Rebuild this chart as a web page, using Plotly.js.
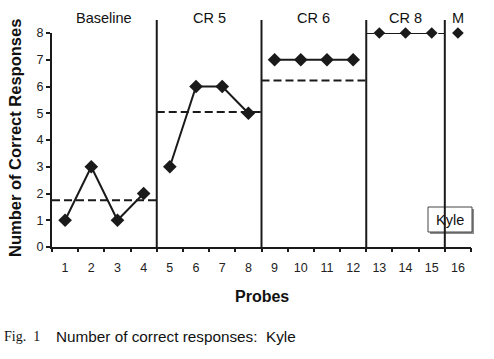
<!DOCTYPE html>
<html>
<head>
<meta charset="utf-8">
<script src="https://cdn.plot.ly/plotly-3.0.1.min.js"></script>
<style>html,body{margin:0;padding:0;background:#fff;}#chart{width:494px;height:359px;}</style>
</head>
<body>
<div id="chart"></div>
<script>
// ---- data ----
var probes = [1,2,3,4,5,6,7,8,9,10,11,12,13,14,15,16];
var responses = [1,3,1,2, 3,6,6,5, 7,7,7,7, 8,8,8, 8];
var phaseOfProbe = [0,0,0,0, 1,1,1,1, 2,2,2,2, 3,3,3, 4];
var phaseNames = ["Baseline", "CR 5", "CR 6", "CR 8", "M"];
var phaseLevels = [1.75, 5.05, 6.22, 8, null];   // dashed reference levels per phase
var yTicks = [0,1,2,3,4,5,6,7,8];
var subjectLabel = "Kyle";

var FONT = "Arial, 'Liberation Sans', sans-serif";
var INK = "#1a1a1a";

// plot area geometry (pixels)
var W = 494, H = 359, L = 52, R = 23, T = 33, B = 112;
var pw = W - L - R, ph = H - T - B;
function px(x){ return (x - L) / pw; }
function py(y){ return (H - B - y) / ph; }

// group probes into phases
var phases = phaseNames.map(function(){ return {x: [], y: []}; });
probes.forEach(function(p, i){
  phases[phaseOfProbe[i]].x.push(p);
  phases[phaseOfProbe[i]].y.push(responses[i]);
});

var traces = phases.map(function(ph_, k){
  return {
    type: "scatter", mode: "lines+markers",
    x: ph_.x, y: ph_.y,
    line: {color: INK, width: 2},
    marker: {symbol: "diamond", color: INK, size: (k >= 3 ? 9 : 10.5), line: {width: 0}},
    cliponaxis: false, showlegend: false, hoverinfo: "skip"
  };
});

// phase boundaries and tick boundaries
var xmin = probes[0] - 0.5, xmax = probes[probes.length - 1] + 0.5;
var starts = [], ends = [];
phases.forEach(function(p){ starts.push(p.x[0] - 0.5); ends.push(p.x[p.x.length - 1] + 0.5); });
var boundaryTicks = [xmin].concat(probes.map(function(p){ return p + 0.5; }));

var shapes = [];
// Kyle box (shadow + box)
shapes.push({type: "rect", xref: "paper", yref: "paper",
  x0: px(430), x1: px(474), y0: py(234), y1: py(209),
  fillcolor: "#8a8a8a", line: {width: 0}, layer: "above"});
shapes.push({type: "rect", xref: "paper", yref: "paper",
  x0: px(428), x1: px(472), y0: py(232), y1: py(207),
  fillcolor: "#ffffff", line: {color: "#444", width: 1}, layer: "above"});
// phase change lines
for (var k = 1; k < phases.length; k++) {
  shapes.push({type: "line", xref: "x", yref: "paper",
    x0: starts[k], x1: starts[k], y0: 0, y1: py(20),
    line: {color: INK, width: 2}, layer: "above"});
}
// dashed phase levels
phaseLevels.forEach(function(v, k){
  if (v === null) return;
  shapes.push({type: "line", xref: "x", yref: "y",
    x0: starts[k], x1: ends[k], y0: v, y1: v,
    line: {color: INK, width: 2, dash: "8px,4px"}, layer: "below"});
});

var annotations = [];
phaseNames.forEach(function(n, k){
  annotations.push({xref: "x", yref: "paper", x: (starts[k] + ends[k]) / 2, y: py(18),
    text: n, showarrow: false, xanchor: "center", yanchor: "middle",
    font: {family: FONT, size: 14.5, color: "#111"}});
});
annotations.push({xref: "paper", yref: "paper", x: px(450), y: py(220),
  text: subjectLabel, showarrow: false, xanchor: "center", yanchor: "middle",
  font: {family: FONT, size: 14.5, color: "#111"}});
annotations.push({xref: "paper", yref: "paper", x: px(15), y: py(138),
  text: "<b>Number of Correct Responses</b>", textangle: -90, showarrow: false,
  xanchor: "center", yanchor: "middle",
  font: {family: FONT, size: 16.5, color: "#111"}});
annotations.push({xref: "paper", yref: "paper", x: px(262), y: py(296),
  text: "<b>Probes</b>", showarrow: false, xanchor: "center", yanchor: "middle",
  font: {family: FONT, size: 16, color: "#111"}});
annotations.push({xref: "paper", yref: "paper", x: px(2), y: py(336),
  text: "Fig.&nbsp;&nbsp;1", showarrow: false, xanchor: "left", yanchor: "middle",
  font: {family: "'Liberation Serif', 'Times New Roman', serif", size: 14, color: "#111"}});
annotations.push({xref: "paper", yref: "paper", x: px(54), y: py(336),
  text: "Number of correct responses:&nbsp;&nbsp;Kyle", showarrow: false, xanchor: "left", yanchor: "middle",
  font: {family: FONT, size: 15.3, color: "#111"}});

var layout = {
  width: W, height: H,
  margin: {l: L, r: R, t: T, b: B, pad: 0},
  paper_bgcolor: "#fff", plot_bgcolor: "#fff",
  showlegend: false,
  xaxis: {range: [xmin, xmax], tickvals: probes, ticktext: probes.map(String),
    ticks: "outside", ticklen: 8, tickcolor: "rgba(0,0,0,0)",
    showline: true, linecolor: INK, linewidth: 2, showgrid: false, zeroline: false,
    tickfont: {family: FONT, size: 12.5, color: "#222"}, fixedrange: true},
  xaxis2: {range: [xmin, xmax], overlaying: "x", anchor: "y", side: "bottom",
    tickvals: boundaryTicks, showticklabels: false, ticks: "outside", ticklen: 4,
    tickwidth: 2, tickcolor: INK, showline: false, showgrid: false, zeroline: false},
  yaxis: {range: [yTicks[0], yTicks[yTicks.length - 1]], tickvals: yTicks,
    ticks: "outside", ticklen: 4, tickwidth: 2, tickcolor: INK,
    showline: true, linecolor: INK, linewidth: 2, showgrid: false, zeroline: false,
    tickfont: {family: FONT, size: 12.5, color: "#222"}, fixedrange: true},
  shapes: shapes,
  annotations: annotations
};

traces.push({type: "scatter", x: [], y: [], xaxis: "x2", yaxis: "y", showlegend: false});

Plotly.newPlot("chart", traces, layout, {displayModeBar: false, staticPlot: true});
</script>
</body>
</html>
